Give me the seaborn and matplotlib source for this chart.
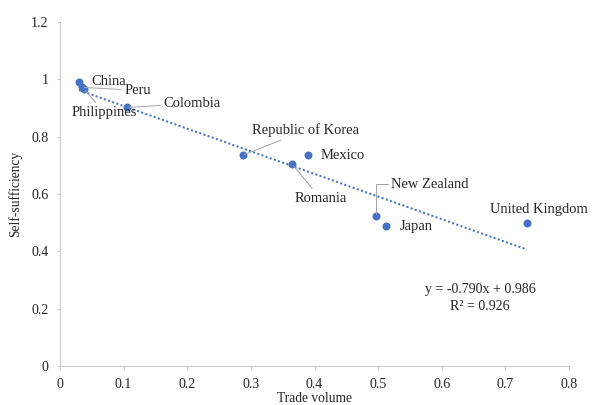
import numpy as np
import pandas as pd
import seaborn as sns
import matplotlib.pyplot as plt

countries = ["China", "Peru", "Philippines", "Colombia", "Republic of Korea",
             "Mexico", "Romania", "New Zealand", "Japan", "United Kingdom"]
trade_volume = [0.030, 0.035, 0.038, 0.105, 0.287, 0.389, 0.365, 0.497, 0.513, 0.734]
self_sufficiency = [0.992, 0.972, 0.965, 0.902, 0.735, 0.735, 0.704, 0.522, 0.488, 0.498]

slope = -0.790
intercept = 0.986
r2 = 0.926

df = pd.DataFrame({"country": countries, "trade": trade_volume, "self": self_sufficiency})

sns.set_style("ticks")
plt.rcParams["font.family"] = ["Liberation Serif", "DejaVu Serif"]

blue = "#4472C4"
grey_axis = "#c8c8c8"
grey_leader = "#a6a6a6"
text_col = "#262626"

fig, ax = plt.subplots(figsize=(592 / 72, 405 / 72), dpi=72)
fig.subplots_adjust(left=60 / 592, right=569 / 592, bottom=1 - 366 / 405, top=1 - 22 / 405)

# trend line
xs = np.array([min(trade_volume), max(trade_volume)])
ax.plot(xs, slope * xs + intercept, color=blue, lw=2, linestyle=(0, (1, 1.2)), zorder=2)

sns.scatterplot(data=df, x="trade", y="self", ax=ax, color=blue, s=64,
                edgecolor=blue, linewidth=0, zorder=3)

# label placement: (dx, dy, ha, leader, connection)
labels = {
    "China": (12, 0, "left", False, None),
    "Peru": (42, -3, "left", True, None),
    "Philippines": (20, -23, "center", True, None),
    "Colombia": (37, 4, "left", True, None),
    "Republic of Korea": (63, 25, "center", True, None),
    "Mexico": (13, 0, "left", False, None),
    "Romania": (28, -34, "center", True, None),
    "New Zealand": (15, 32, "left", True, "angle,angleA=0,angleB=90,rad=0"),
    "Japan": (13, 0, "left", False, None),
    "United Kingdom": (12, 14, "center", False, None),
}

for c, x, y in zip(countries, trade_volume, self_sufficiency):
    dx, dy, ha, leader, conn = labels[c]
    kw = {}
    if leader:
        ap = dict(arrowstyle="-", color=grey_leader, lw=1, shrinkA=1, shrinkB=2)
        if conn:
            ap["connectionstyle"] = conn
            ap["relpos"] = (0, 0.5)
        kw["arrowprops"] = ap
    ax.annotate(c, xy=(x, y), xytext=(dx, dy), textcoords="offset points",
                ha=ha, va="center", fontsize=14.5, color=text_col, zorder=4, **kw)

ax.text(0.66, 0.267, f"y = {slope:.3f}x + {intercept:.3f}", ha="center", va="center",
        fontsize=14, color=text_col)
ax.text(0.66, 0.208, f"R² = {r2:.3f}", ha="center", va="center",
        fontsize=14, color=text_col)

ax.set_xlim(0, 0.8)
ax.set_ylim(0, 1.2)
ax.set_xticks(np.arange(0, 0.81, 0.1))
ax.set_yticks(np.arange(0, 1.21, 0.2))
ax.set_xticklabels(["0", "0.1", "0.2", "0.3", "0.4", "0.5", "0.6", "0.7", "0.8"])
ax.set_yticklabels(["0", "0.2", "0.4", "0.6", "0.8", "1", "1.2"])

sns.despine(ax=ax)
for sp in ["left", "bottom"]:
    ax.spines[sp].set_color(grey_axis)
    ax.spines[sp].set_linewidth(1)
ax.tick_params(direction="out", length=3.5, width=1, color=grey_axis,
               labelsize=14, labelcolor=text_col, pad=8)

ax.set_xlabel("Trade volume", fontsize=13.5, color=text_col)
ax.set_ylabel("Self-sufficiency", fontsize=13.5, color=text_col)
ax.xaxis.set_label_coords(0.5, -0.075)
ax.yaxis.set_label_coords(-0.075, 0.5)

fig.savefig("out.png", dpi=72)
